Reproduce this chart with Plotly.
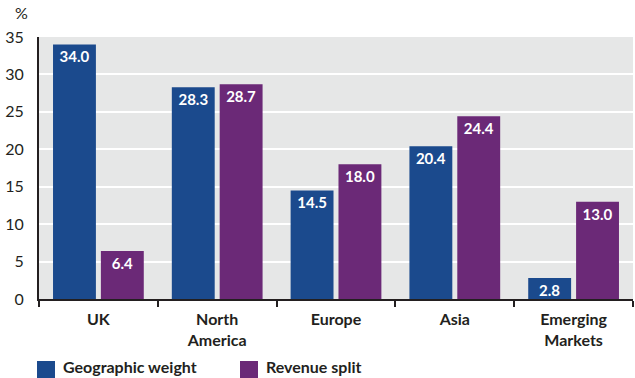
import plotly.graph_objects as go

categories = ["UK", "North<br>America", "Europe", "Asia", "Emerging<br>Markets"]
geographic_weight = [34.0, 28.3, 14.5, 20.4, 2.8]
revenue_split = [6.4, 28.7, 18.0, 24.4, 13.0]
series_names = ["Geographic weight", "Revenue split"]
y_ticks = [0, 5, 10, 15, 20, 25, 30, 35]

BLUE = "#1B4A8D"
PURPLE = "#6B2977"
FONT = "Lato"

fig = go.Figure()
for vals, name, color, off in [
    (geographic_weight, series_names[0], BLUE, -0.382),
    (revenue_split, series_names[1], PURPLE, 0.021),
]:
    fig.add_trace(go.Bar(
        x=categories, y=vals, name=name, marker_color=color,
        marker_line_width=0,
        width=0.361, offset=off,
        text=[f"{v:.1f}" for v in vals], textposition="inside",
        insidetextanchor="end", textangle=0,
        textfont=dict(color="white", size=15, family=FONT, weight="bold"),
        showlegend=False,
    ))

fig.update_layout(
    width=635, height=378,
    margin=dict(l=39, r=2, t=37, b=79),
    paper_bgcolor="white", plot_bgcolor="#E6E7E7",
    barmode="overlay",
    font=dict(family=FONT, color="#231F20", size=15),
    uniformtext=dict(minsize=15, mode="show"),
)
fig.update_xaxes(
    type="category", tickson="boundaries", ticks="outside", ticklen=6,
    tickcolor="#231F20", tickwidth=1.5,
    showline=True, linecolor="#231F20", linewidth=1.5,
    showgrid=False, ticklabelstandoff=5,
    tickfont=dict(family=FONT, size=16, weight="bold", color="#231F20"),
    range=[-0.5, 4.5],
)
fig.update_yaxes(
    range=[0, 35], tickvals=y_ticks, showgrid=True, gridcolor="white",
    gridwidth=2, zeroline=False, showline=True, linecolor="#231F20",
    linewidth=2, ticks="", ticklabelstandoff=10,
    tickfont=dict(family=FONT, size=16, color="#231F20"),
)

fig.add_annotation(x=0, y=1.0, xref="paper", yref="paper", xanchor="left",
                   yanchor="bottom", yshift=13, xshift=-26, text="%", showarrow=False,
                   font=dict(size=16, family=FONT, color="#231F20"))

# legend drawn manually (larger swatches than Plotly's default)
for name, color, x0 in [(series_names[0], BLUE, 37), (series_names[1], PURPLE, 240)]:
    fig.add_shape(type="rect", xref="paper", yref="paper",
                  x0=(x0 - 39) / 594, x1=(x0 + 18 - 39) / 594,
                  y0=-(379 - 299) / 262,
                  y1=-(361 - 299) / 262,
                  fillcolor=color, line_width=0)
    fig.add_annotation(xref="paper", yref="paper", x=(x0 + 24 - 39) / 594,
                       y=-(366 - 299) / 262, xanchor="left", yanchor="middle",
                       text=name, showarrow=False,
                       font=dict(size=16, family=FONT, weight="bold", color="#231F20"))

fig.write_html("out.html")
